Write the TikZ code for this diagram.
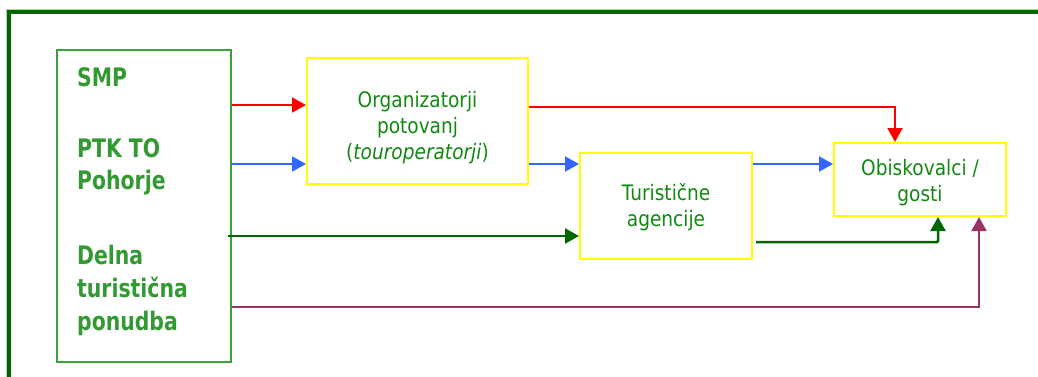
\documentclass[tikz,border=0pt]{standalone}
\usepackage{fontspec}
\setmainfont{DejaVu Sans}[FakeStretch=0.87]
\newfontfamily\leftfont{DejaVu Sans}[FakeStretch=0.8]
\usetikzlibrary{arrows.meta}
\definecolor{framegreen}{RGB}{0,102,0}
\definecolor{lboxgreen}{RGB}{60,160,60}
\definecolor{ltext}{RGB}{51,153,51}
\definecolor{btext}{RGB}{17,136,17}
\definecolor{ayellow}{RGB}{255,255,0}
\definecolor{ared}{RGB}{255,0,0}
\definecolor{ablue}{RGB}{51,102,255}
\definecolor{agreen}{RGB}{0,102,0}
\definecolor{apurple}{RGB}{153,51,102}
\tikzset{
  ybox/.style={draw=ayellow, line width=2bp, inner sep=0pt},
  btxt/.style={anchor=base, text=btext, inner sep=0pt,
    font=\fontsize{21.4}{26}\selectfont},
  ltxt/.style={anchor=base west, text=ltext, inner sep=0pt,
    font=\leftfont\fontsize{25.6}{33}\selectfont\bfseries},
  conn/.style={line width=2bp, -{Triangle[length=14bp,width=15bp]}},
}
\begin{document}
\begin{tikzpicture}[x=1bp,y=-1bp]
\useasboundingbox (0,0) rectangle (1038,376);
\clip (0,0) rectangle (1038,376);
% outer frame
\draw[gray!45, line width=0.8bp] (6.5,400) -- (6.5,9.5) -- (1050,9.5);
\draw[framegreen, line width=4bp] (9,400) -- (9,12) -- (1050,12);
% boxes
\node[draw=lboxgreen, line width=1.5bp, minimum width=174bp, minimum height=312bp, inner sep=0pt] (src) at (144,206) {};
\node[ltxt] (t1) at (77,86) {SMP};
\node[ltxt] (t2) at (77,157) {PTK TO};
\node[ltxt] (t3) at (77,189) {Pohorje};
\node[ltxt] (t4) at (77,264) {Delna};
\node[ltxt] (t5) at (77,297) {turistična};
\node[ltxt] (t6) at (77,330) {ponudba};
\node[ybox, minimum width=221bp, minimum height=126bp] (org) at (417.5,121) {};
\node[btxt] (o1) at (417.5,107) {Organizatorji};
\node[btxt] (o2) at (417.5,133) {potovanj};
\node[btxt] (o3) at (417.5,159) {(\textit{touroperatorji})};
\node[ybox, minimum width=172bp, minimum height=106bp] (ag) at (666,206) {};
\node[btxt] (a1) at (666,200) {Turistične};
\node[btxt] (a2) at (666,226) {agencije};
\node[ybox, minimum width=172bp, minimum height=73bp] (gst) at (920,179.5) {};
\node[btxt] (g1) at (920,175) {Obiskovalci /};
\node[btxt] (g2) at (920,201) {gosti};
% connectors
\draw[conn, ared] (src.east |- 0,105) -- (org.west |- 0,105);
\draw[conn, ablue] (src.east |- 0,164) -- (org.west |- 0,164);
\draw[conn, ared] (org.east |- 0,107) -| (895,0 |- gst.north);
\draw[conn, ablue] (org.east |- 0,164) -- (ag.west |- 0,164);
\draw[conn, ablue] (ag.east |- 0,164) -- (gst.west |- 0,164);
\draw[conn, agreen, line width=2.5bp] (228,236) -- (ag.west |- 0,236);
\draw[conn, agreen, line width=2.5bp, rounded corners=1bp] (756,242) -| (938,0 |- gst.south);
\draw[conn, apurple] (src.east |- 0,307) -| (979,0 |- gst.south);
\end{tikzpicture}
\end{document}
